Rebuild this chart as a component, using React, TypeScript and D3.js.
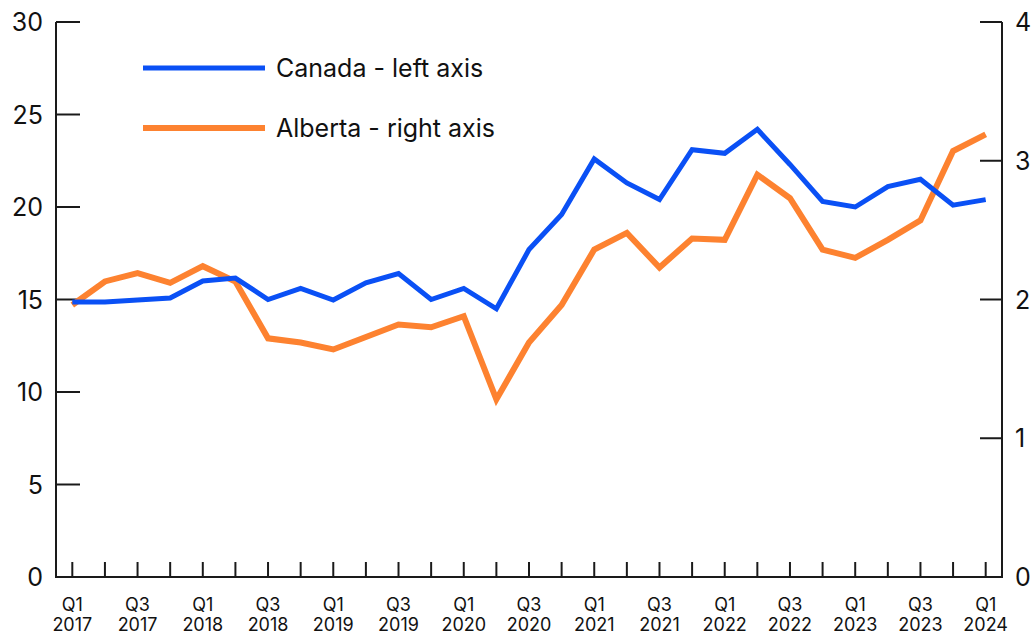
import React, { useEffect, useRef } from 'react';
import * as d3 from 'd3';

// quarters Q1 2017 .. Q1 2024
const quarters = [
  'Q1 2017', 'Q2 2017', 'Q3 2017', 'Q4 2017',
  'Q1 2018', 'Q2 2018', 'Q3 2018', 'Q4 2018',
  'Q1 2019', 'Q2 2019', 'Q3 2019', 'Q4 2019',
  'Q1 2020', 'Q2 2020', 'Q3 2020', 'Q4 2020',
  'Q1 2021', 'Q2 2021', 'Q3 2021', 'Q4 2021',
  'Q1 2022', 'Q2 2022', 'Q3 2022', 'Q4 2022',
  'Q1 2023', 'Q2 2023', 'Q3 2023', 'Q4 2023',
  'Q1 2024',
];

// left axis
const canada = [
  14.86, 14.86, 14.97, 15.08, 16.0, 16.16, 15.0, 15.6, 14.97,
  15.9, 16.4, 15.0, 15.6, 14.5, 17.7, 19.6, 22.6, 21.3, 20.4,
  23.1, 22.9, 24.2, 22.3, 20.3, 20.0, 21.1, 21.5, 20.1, 20.4,
];

// right axis
const alberta = [
  1.96, 2.13, 2.19, 2.12, 2.24, 2.13, 1.72, 1.69, 1.64,
  1.73, 1.82, 1.80, 1.88, 1.28, 1.69, 1.96, 2.36, 2.48, 2.23,
  2.44, 2.43, 2.90, 2.73, 2.36, 2.30, 2.43, 2.57, 3.07, 3.19,
];

const leftTicks = [0, 5, 10, 15, 20, 25, 30];
const rightTicks = [0, 1, 2, 3, 4];

const BLUE = '#0a50f5';
const ORANGE = '#fd8230';
const FONT = 'Inter, "Noto Sans", sans-serif';

export default function App() {
  const svgRef = useRef<SVGSVGElement>(null);

  useEffect(() => {
    if (!svgRef.current) return;
    const svg = d3.select(svgRef.current);
    svg.selectAll('*').remove();

    const left = 56, right = 1002, top = 22, bottom = 577;

    const x = d3.scalePoint<string>()
      .domain(quarters)
      .range([left, right])
      .padding(0.5);
    const yL = d3.scaleLinear().domain([0, 30]).range([bottom, top]);
    const yR = d3.scaleLinear().domain([0, 4]).range([bottom, top]);

    const axisColor = '#1a1a1a';

    // frame lines
    svg.append('path')
      .attr('d', `M${left},${top}V${bottom}H${right}V${top}`)
      .attr('fill', 'none')
      .attr('stroke', axisColor)
      .attr('stroke-width', 2);

    // left ticks + labels
    leftTicks.forEach(t => {
      svg.append('line')
        .attr('x1', left).attr('x2', left + 24)
        .attr('y1', yL(t)).attr('y2', yL(t))
        .attr('stroke', axisColor).attr('stroke-width', 2);
      svg.append('text')
        .attr('x', 43).attr('y', yL(t))
        .attr('dy', '0.36em')
        .attr('text-anchor', 'end')
        .attr('font-family', FONT)
        .attr('font-size', 25)
        .attr('fill', '#111')
        .text(t);
    });

    // right ticks + labels
    rightTicks.forEach(t => {
      svg.append('line')
        .attr('x1', right - 22).attr('x2', right)
        .attr('y1', yR(t)).attr('y2', yR(t))
        .attr('stroke', axisColor).attr('stroke-width', 2);
      svg.append('text')
        .attr('x', 1015).attr('y', yR(t))
        .attr('dy', '0.36em')
        .attr('text-anchor', 'start')
        .attr('font-family', FONT)
        .attr('font-size', 25)
        .attr('fill', '#111')
        .text(t);
    });

    // x ticks + labels
    quarters.forEach((q, i) => {
      const px = x(q)!;
      svg.append('line')
        .attr('x1', px).attr('x2', px)
        .attr('y1', bottom).attr('y2', bottom - 15)
        .attr('stroke', axisColor).attr('stroke-width', 2);
      if (i % 2 === 0) {
        const [qq, yr] = q.split(' ');
        const t = svg.append('text')
          .attr('text-anchor', 'middle')
          .attr('font-family', FONT)
          .attr('font-size', 18)
          .attr('fill', '#111');
        t.append('tspan').attr('x', px).attr('y', 611).text(qq);
        t.append('tspan').attr('x', px).attr('y', 631).text(yr);
      }
    });

    const lineL = d3.line<number>()
      .x((_, i) => x(quarters[i])!)
      .y(d => yL(d));
    const lineR = d3.line<number>()
      .x((_, i) => x(quarters[i])!)
      .y(d => yR(d));

    svg.append('path')
      .datum(alberta)
      .attr('fill', 'none')
      .attr('stroke', ORANGE)
      .attr('stroke-width', 6)
      .attr('d', lineR);

    svg.append('path')
      .datum(canada)
      .attr('fill', 'none')
      .attr('stroke', BLUE)
      .attr('stroke-width', 5)
      .attr('d', lineL);

    // legend
    const legend = [
      { label: 'Canada - left axis', color: BLUE, w: 5, y: 68 },
      { label: 'Alberta - right axis', color: ORANGE, w: 6, y: 128 },
    ];
    legend.forEach(l => {
      svg.append('line')
        .attr('x1', 143).attr('x2', 265)
        .attr('y1', l.y).attr('y2', l.y)
        .attr('stroke', l.color).attr('stroke-width', l.w);
      svg.append('text')
        .attr('x', 276).attr('y', l.y)
        .attr('dy', '0.36em')
        .attr('font-family', FONT)
        .attr('font-size', 25)
        .attr('fill', '#111')
        .text(l.label);
    });
  }, []);

  return (
    <svg
      ref={svgRef}
      width={1033}
      height={637}
      style={{ position: 'absolute', left: 0, top: 0, background: '#fff' }}
    />
  );
}
